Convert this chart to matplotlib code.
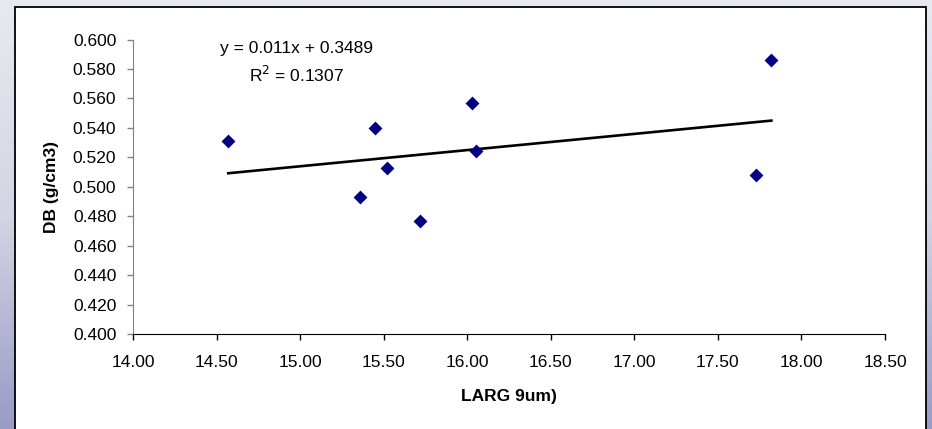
import numpy as np
import matplotlib
matplotlib.use('Agg')
import matplotlib.pyplot as plt
from matplotlib.patches import Rectangle
from matplotlib.colors import LinearSegmentedColormap

# Dados: largura 9um vs densidade básica
larg = [14.57, 15.36, 15.45, 15.52, 15.72, 16.03, 16.05, 17.73, 17.82]
db = [0.531, 0.493, 0.540, 0.513, 0.477, 0.557, 0.524, 0.508, 0.586]

# Linha de tendência (linear)
slope = 0.011
intercept = 0.3489
r2 = 0.1307

x_ticks = [14.00, 14.50, 15.00, 15.50, 16.00, 16.50, 17.00, 17.50, 18.00, 18.50]
y_ticks = [0.400, 0.420, 0.440, 0.460, 0.480, 0.500, 0.520, 0.540, 0.560, 0.580, 0.600]

plt.rcParams['font.family'] = ['Liberation Sans', 'DejaVu Sans']
FS = 12.5

W, H = 932, 429
fig = plt.figure(figsize=(W / 100, H / 100), dpi=100)

# fundo em degradê
bg = fig.add_axes([0, 0, 1, 1], zorder=-10)
grad = np.linspace(0, 1, 256).reshape(-1, 1)
cmap = LinearSegmentedColormap.from_list('bg', ['#e8e9f0', '#d4d5e4', '#9a9ac6'])
bg.imshow(grad, aspect='auto', cmap=cmap, extent=[0, 1, 0, 1], origin='upper')
bg.set_axis_off()

# área branca do gráfico
fig.patches.append(Rectangle((15 / W, -0.05), (926 - 15) / W, 1.05 - 7 / H,
                             transform=fig.transFigure, facecolor='white',
                             edgecolor='black', linewidth=1.3, zorder=-5))

ax = fig.add_axes([133 / W, 1 - 334 / H, (885 - 133) / W, (334 - 39.5) / H])
ax.set_facecolor('none')

ax.scatter(larg, db, marker='D', s=50, color='#000080', zorder=3, linewidths=0)

xt = np.array([min(larg), max(larg)])
ax.plot(xt, slope * xt + intercept, color='black', linewidth=1.9, zorder=2)

# equação e R²
fig.text(296 / W, 1 - 48 / H, f'y = {slope}x + {intercept}', fontsize=FS,
         ha='center', va='center')
fig.text(296 / W, 1 - 75 / H, f'R$^2$ = {r2}', fontsize=FS,
         ha='center', va='center')

ax.set_xlim(14.0, 18.5)
ax.set_ylim(0.4, 0.6)
ax.set_xticks(x_ticks)
ax.set_yticks(y_ticks)
ax.set_xticklabels([f'{v:.2f}' for v in x_ticks])
ax.set_yticklabels([f'{v:.3f}' for v in y_ticks])

for s in ['top', 'right']:
    ax.spines[s].set_visible(False)
ax.spines['left'].set_color('#808080')
ax.spines['bottom'].set_color('#000000')
ax.tick_params(axis='y', direction='out', length=4, width=1, color='#808080',
               labelsize=FS, pad=8)
ax.tick_params(axis='x', direction='out', length=4, width=1, color='#000000',
               labelsize=FS, pad=11)

ax.set_xlabel('LARG 9um)', fontsize=FS, fontweight='bold', va='center')
ax.set_ylabel('DB (g/cm3)', fontsize=FS, fontweight='bold', va='center')
ax.xaxis.set_label_coords(0.5, (334 - 397) / 294.5)
ax.yaxis.set_label_coords((51 - 133) / 752, 0.5)

fig.savefig('out.png', dpi=100)
